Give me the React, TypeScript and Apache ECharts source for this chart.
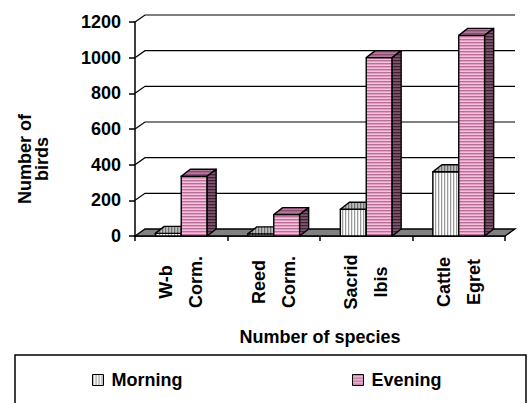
import React, { useEffect, useRef } from "react";
import * as echarts from "echarts";

const categories = ["W-b\nCorm.", "Reed\nCorm.", "Sacrid\nIbis", "Cattle\nEgret"];
const morning = [15, 12, 150, 360];
const evening = [335, 120, 1000, 1125];
const yTicks = [0, 200, 400, 600, 800, 1000, 1200];
const seriesNames = ["Morning", "Evening"];

const FONT = '"Liberation Sans", Arial, sans-serif';
const WX = 10; // wall depth x
const WY = 7; // wall depth y
const DX = 9; // bar depth x
const DY = 7; // bar depth y

function stripes(colors: string[], dir: "v" | "h") {
  const n = colors.length;
  const w = dir === "v" ? n : 4;
  const h = dir === "v" ? 4 : n;
  const c = document.createElement("canvas");
  c.width = w;
  c.height = h;
  const ctx = c.getContext("2d")!;
  colors.forEach((col, i) => {
    ctx.fillStyle = col;
    if (dir === "v") ctx.fillRect(i, 0, 1, h);
    else ctx.fillRect(0, i, w, 1);
  });
  return { image: c, repeat: "repeat", imageWidth: w, imageHeight: h } as any;
}

export default function App() {
  const ref = useRef<HTMLDivElement>(null);
  useEffect(() => {
    document.body.style.margin = "0";
    const chart = echarts.init(ref.current!, undefined, { renderer: "svg" });

    const morningPal = {
      front: stripes(["#9a9a9a", "#e4e4e4", "#ffffff"], "v"),
      top: stripes(["#6e6e6e", "#a8a8a8", "#bdbdbd"], "v"),
      side: stripes(["#4a4a4a", "#7a7a7a", "#8a8a8a"], "v"),
    };
    const eveningPal = {
      front: stripes(["#b8709a", "#e59cc2", "#f3c3dc"], "h"),
      top: stripes(["#8a4c6e", "#a86a8c", "#b47c9a"], "h"),
      side: stripes(["#3e2232", "#6e4660", "#7e5670"], "h"),
    };

    const barRender = (side: number, pal: any) => (params: any, api: any) => {
      const cat = api.value(0);
      const v = api.value(1);
      const top = api.coord([cat, v]);
      const base = api.coord([cat, 0]);
      const bw = api.size([1, 0])[0] * 0.28;
      const x0 = side < 0 ? top[0] - bw : top[0];
      const x1 = x0 + bw;
      const yT = top[1];
      const yB = base[1];
      const st = { stroke: "#000", lineWidth: 1.4, lineJoin: "round" };
      return {
        type: "group",
        children: [
          {
            type: "rect",
            shape: { x: x0, y: yT, width: bw, height: yB - yT },
            style: { ...st, fill: pal.front },
          },
          {
            type: "polygon",
            shape: { points: [[x0, yT], [x1, yT], [x1 + DX, yT - DY], [x0 + DX, yT - DY]] },
            style: { ...st, fill: pal.top },
          },
          {
            type: "polygon",
            shape: { points: [[x1, yT], [x1 + DX, yT - DY], [x1 + DX, yB - DY], [x1, yB]] },
            style: { ...st, fill: pal.side },
          },
        ],
      };
    };

    const legendText = { fontFamily: FONT, fontWeight: "bold", fontSize: 18, color: "#000", padding: [0, 0, 0, 3] };

    chart.setOption({
      animation: false,
      grid: { left: 135, right: 23, top: 22, bottom: 167 },
      graphic: [
        {
          type: "rect",
          shape: { x: 15, y: 355, width: 511, height: 80 },
          style: { fill: "transparent", stroke: "#000", lineWidth: 1.5 },
          z: 0,
        },
        {
          type: "text",
          x: 33,
          y: 159,
          rotation: Math.PI / 2,
          style: {
            text: "Number of\nbirds",
            align: "center",
            verticalAlign: "middle",
            font: `bold 18px ${FONT}`,
            lineHeight: 17,
            fill: "#000",
          },
        },
      ],
      legend: [
        {
          data: [
            {
              name: seriesNames[0],
              icon: "rect",
              itemStyle: { color: morningPal.front, borderColor: "#000", borderWidth: 1 },
            },
          ],
          left: 92,
          top: 371,
          padding: 0,
          itemWidth: 11,
          itemHeight: 11,
          textStyle: legendText,
        },
        {
          data: [
            {
              name: seriesNames[1],
              icon: "rect",
              itemStyle: { color: eveningPal.front, borderColor: "#000", borderWidth: 1 },
            },
          ],
          left: 352,
          top: 371,
          padding: 0,
          itemWidth: 11,
          itemHeight: 11,
          textStyle: legendText,
        },
      ],
      xAxis: {
        type: "category",
        data: categories,
        name: "Number of species",
        nameLocation: "middle",
        nameGap: 92,
        nameTextStyle: { fontFamily: FONT, fontWeight: "bold", fontSize: 18, color: "#000" },
        axisLine: { lineStyle: { color: "#000", width: 1.5 } },
        axisTick: { show: true, length: 5, lineStyle: { color: "#000", width: 1.5 } },
        axisLabel: {
          interval: 0,
          rotate: 90,
          align: "center",
          verticalAlign: "middle",
          margin: 46,
          lineHeight: 30,
          padding: [0, 0, 14, 0],
          fontFamily: FONT,
          fontWeight: "bold",
          fontSize: 18,
          color: "#000",
        },
        splitLine: { show: false },
      },
      yAxis: {
        type: "value",
        min: 0,
        max: 1200,
        interval: 200,
        axisLine: { show: true, lineStyle: { color: "#000", width: 1.5 } },
        axisTick: { show: true, length: 6, lineStyle: { color: "#000", width: 1.5 } },
        axisLabel: {
          margin: 14,
          formatter: (v: number) => String(v),
          fontFamily: FONT,
          fontWeight: "bold",
          fontSize: 18,
          color: "#000",
        },
        splitLine: { show: false },
      },
      series: [
        {
          type: "custom",
          silent: true,
          clip: false,
          data: yTicks.slice(1).map((v) => [0, v]),
          renderItem: (params: any, api: any) => {
            const cs = params.coordSys;
            const y = api.coord([0, api.value(1)])[1];
            const x0 = cs.x;
            const x1 = cs.x + cs.width;
            return {
              type: "polyline",
              shape: { points: [[x0, y], [x0 + WX, y - WY], [x1 + WX, y - WY]] },
              style: { stroke: "#000", lineWidth: 1.2, fill: "none" },
            };
          },
        },
        {
          type: "custom",
          silent: true,
          clip: false,
          data: [[0, 0]],
          renderItem: (params: any, api: any) => {
            const cs = params.coordSys;
            const y = api.coord([0, 0])[1];
            const x0 = cs.x;
            const x1 = cs.x + cs.width;
            return {
              type: "polygon",
              shape: { points: [[x0, y], [x1, y], [x1 + WX, y - WY], [x0 + WX, y - WY]] },
              style: { fill: "#808080", stroke: "#000", lineWidth: 1.3 },
            };
          },
        },
        {
          name: seriesNames[0],
          type: "custom",
          clip: false,
          itemStyle: { color: "#bdbdbd" },
          data: morning.map((v, i) => [i, v]),
          renderItem: barRender(-1, morningPal),
        },
        {
          name: seriesNames[1],
          type: "custom",
          clip: false,
          itemStyle: { color: "#e59cc2" },
          data: evening.map((v, i) => [i, v]),
          renderItem: barRender(1, eveningPal),
        },
      ],
    });
    return () => chart.dispose();
  }, []);
  return <div ref={ref} style={{ width: 528, height: 403 }} />;
}
